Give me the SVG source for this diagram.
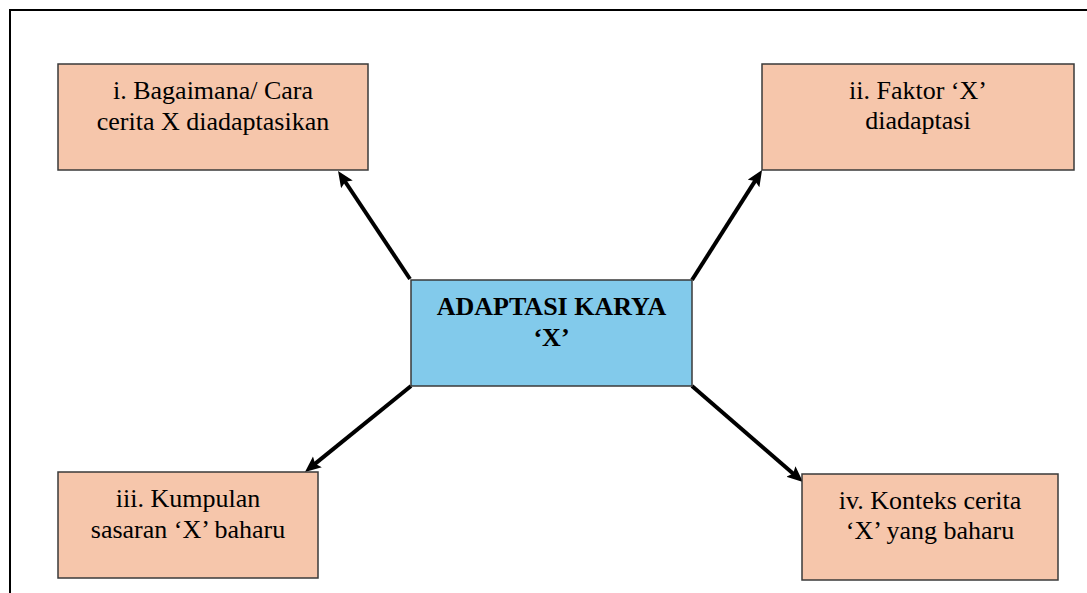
<svg xmlns="http://www.w3.org/2000/svg" width="1087" height="593" viewBox="0 0 1087 593">
  <style>
    .box { fill: #F6C6AB; stroke: #3a3a3a; stroke-width: 1.5; }
    .center { fill: #82CAEB; stroke: #3a3a3a; stroke-width: 1.5; }
    text { font-family: 'Liberation Serif', serif; font-size: 26px; fill: #000; text-anchor: middle; }
    .tb { font-weight: bold; }
    .conn { stroke: #000; stroke-width: 4; fill: none; marker-end: url(#ah); }
  </style>
  <defs>
    <marker id="ah" markerUnits="userSpaceOnUse" markerWidth="18" markerHeight="16" refX="4" refY="7" orient="auto" viewBox="0 0 18 16">
      <path d="M0,0 L16,7 L0,14 L3,7 z" fill="#000"/>
    </marker>
  </defs>
  <rect width="1087" height="593" fill="#fff"/>
  <path d="M10,593 L10,10 L1087,10" fill="none" stroke="#000" stroke-width="2"/>

  <g id="connectors">
    <line class="conn" x1="410" y1="279" x2="344.7" y2="181"/>
    <line class="conn" x1="692" y1="280" x2="755.6" y2="180.1"/>
    <line class="conn" x1="411" y1="386" x2="314.3" y2="464.4"/>
    <line class="conn" x1="692" y1="386" x2="793.9" y2="474.2"/>
  </g>

  <g id="node-center">
    <rect class="center" x="411" y="280" width="281" height="106"/>
    <text class="tb" x="551.5" y="315" font-family="Liberation Serif">ADAPTASI KARYA</text>
    <text class="tb" x="551.5" y="346" font-family="Liberation Serif">‘X’</text>
  </g>

  <g id="node-i">
    <rect class="box" x="58" y="64" width="310" height="106"/>
    <text x="213" y="99" font-family="Liberation Serif">i. Bagaimana/ Cara</text>
    <text x="213" y="130" font-family="Liberation Serif">cerita X diadaptasikan</text>
  </g>

  <g id="node-ii">
    <rect class="box" x="762" y="64" width="312" height="106"/>
    <text x="918" y="99" font-family="Liberation Serif">ii. Faktor ‘X’</text>
    <text x="918" y="129" font-family="Liberation Serif">diadaptasi</text>
  </g>

  <g id="node-iii">
    <rect class="box" x="58" y="472" width="260" height="106"/>
    <text x="188" y="507" font-family="Liberation Serif">iii. Kumpulan</text>
    <text x="188" y="538" font-family="Liberation Serif">sasaran ‘X’ baharu</text>
  </g>

  <g id="node-iv">
    <rect class="box" x="802" y="474" width="256" height="106"/>
    <text x="930" y="509" font-family="Liberation Serif">iv. Konteks cerita</text>
    <text x="930" y="539" font-family="Liberation Serif">‘X’ yang baharu</text>
  </g>
</svg>
